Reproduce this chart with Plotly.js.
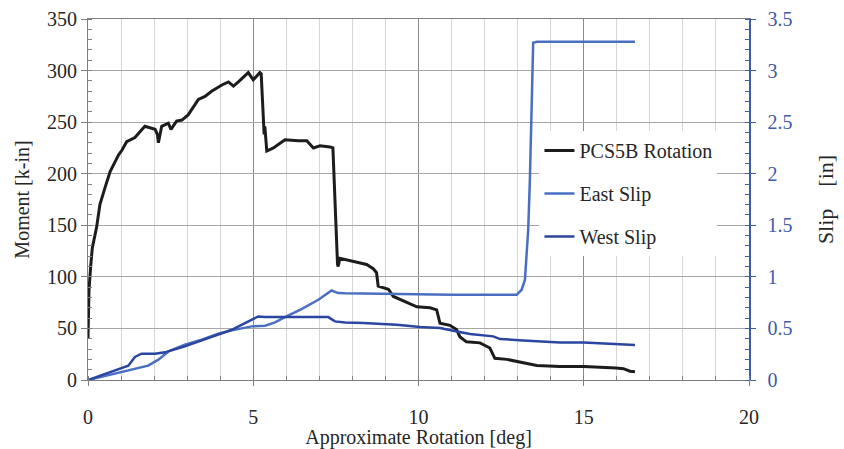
<!DOCTYPE html>
<html>
<head>
<meta charset="utf-8">
<script src="https://cdn.plot.ly/plotly-3.0.1.min.js"></script>
<style>html,body{margin:0;padding:0;background:#fff;}</style>
</head>
<body>
<div id="chart" style="width:844px;height:449px;"></div>
<script>
// PCS5B Rotation: rotation [deg] vs moment [k-in]
var rotX = [0, 0.03, 0.08, 0.13, 0.26, 0.36, 0.51, 0.67, 0.92, 1.03, 1.17, 1.42, 1.72, 1.93, 2.03, 2.10, 2.13, 2.23, 2.43, 2.51, 2.68, 2.84, 3.03, 3.34, 3.54, 3.74, 4.05, 4.25, 4.40, 4.55, 4.85, 5.00, 5.20, 5.24, 5.30, 5.33, 5.35, 5.41, 5.61, 5.96, 6.36, 6.62, 6.82, 7.02, 7.32, 7.41, 7.55, 7.57, 7.62, 8.03, 8.43, 8.63, 8.73, 8.78, 9.09, 9.24, 9.64, 9.95, 10.35, 10.55, 10.65, 10.95, 11.15, 11.25, 11.45, 11.86, 12.16, 12.31, 12.67, 13.17, 13.58, 14.28, 15.0, 15.98, 16.2, 16.4, 16.55];
var rotMoment = [40, 87, 110, 128, 148, 170, 186, 202, 218, 223, 231, 235, 246, 244, 243, 238, 230, 246, 249, 243, 251, 252, 257, 272, 275, 280, 286, 289, 285, 289, 298, 291, 298, 297, 249, 238, 246, 222, 225, 233, 232, 232, 225, 227, 226, 225, 112, 110, 118, 115, 112, 108, 104, 91, 88, 81, 75, 71, 70, 68, 55, 53, 49, 42, 37, 36, 31, 21, 20, 16.5, 14, 13.2, 13.2, 11.6, 11, 8.5, 8];

// East Slip [in]
var eastX = [0, 0.92, 1.42, 1.82, 2.13, 2.43, 2.93, 3.44, 3.94, 4.35, 4.95, 5.36, 5.66, 5.96, 6.46, 6.97, 7.37, 7.57, 7.78, 9.3, 11.0, 12.97, 13.12, 13.22, 13.27, 13.32, 13.37, 13.42, 13.47, 13.58, 16.55];
var eastSlip = [0, 0.068, 0.107, 0.139, 0.197, 0.277, 0.342, 0.39, 0.449, 0.481, 0.52, 0.526, 0.558, 0.61, 0.688, 0.778, 0.868, 0.843, 0.84, 0.83, 0.826, 0.826, 0.875, 0.97, 1.17, 1.46, 1.94, 2.59, 3.27, 3.28, 3.28];

// West Slip [in]
var westX = [0, 0.92, 1.22, 1.42, 1.62, 2.03, 2.33, 2.93, 3.94, 4.35, 4.75, 5.15, 5.36, 5.96, 7.27, 7.47, 7.78, 8.33, 9.34, 10.05, 10.65, 11.16, 11.56, 12.26, 12.47, 13.17, 14.28, 15.0, 16.55];
var westSlip = [0, 0.10, 0.139, 0.223, 0.255, 0.255, 0.268, 0.326, 0.439, 0.487, 0.552, 0.616, 0.61, 0.61, 0.61, 0.568, 0.558, 0.552, 0.536, 0.514, 0.504, 0.471, 0.446, 0.423, 0.397, 0.384, 0.364, 0.364, 0.339];

var names = ['PCS5B Rotation', 'East Slip', 'West Slip'];

var FONT = '"Liberation Serif", serif';
var BLUE_AX = '#3f5aa8';

var traces = [
  {x: rotX, y: rotMoment, name: names[0], type: 'scatter', mode: 'lines', yaxis: 'y',
   line: {color: '#1c1c1c', width: 3}, legendgroup: 'a'},
  {x: eastX, y: eastSlip, name: names[1], type: 'scatter', mode: 'lines', yaxis: 'y2',
   line: {color: '#4a6fc2', width: 2.5}, legendgroup: 'b'},
  {x: westX, y: westSlip, name: names[2], type: 'scatter', mode: 'lines', yaxis: 'y2',
   line: {color: '#2b45a2', width: 2.5}, legendgroup: 'c'}
];

var layout = {
  width: 844, height: 449,
  margin: {l: 88, r: 95, t: 19, b: 69},
  paper_bgcolor: '#fff', plot_bgcolor: '#fff',
  font: {family: FONT, size: 20, color: '#262626'},
  showlegend: true,
  legend: {x: 0.683, y: 0.69, xanchor: 'left', yanchor: 'top', bgcolor: '#fff',
           font: {family: FONT, size: 20, color: '#262626'}, tracegroupgap: 14,
           traceorder: 'grouped', itemwidth: 30},
  xaxis: {
    range: [0, 20], dtick: 5, tick0: 0, showgrid: true, gridcolor: '#8c8c8c', gridwidth: 1,
    zeroline: false, showline: true, linecolor: '#7f7f7f', linewidth: 1, mirror: true,
    ticks: 'outside', ticklen: 5, tickcolor: '#7f7f7f', ticklabelstandoff: 14,
    minor: {dtick: 1, showgrid: true, gridcolor: '#d6d6d6', ticks: 'inside', ticklen: 4, tickcolor: '#7f7f7f'},
    tickfont: {family: FONT, size: 20, color: '#262626'},
    title: {text: 'Approximate Rotation [deg]', font: {family: FONT, size: 20, color: '#262626'}, standoff: 2},
    automargin: false
  },
  yaxis: {
    range: [0, 350], dtick: 50, showgrid: true, gridcolor: '#a6a6a6', gridwidth: 1,
    zeroline: false, showline: true, linecolor: '#7f7f7f', linewidth: 1,
    ticks: 'outside', ticklen: 6, tickcolor: '#7f7f7f',
    minor: {dtick: 10, ticks: 'inside', ticklen: 4, tickcolor: '#7f7f7f', showgrid: false},
    tickfont: {family: FONT, size: 20, color: '#262626'},
    title: {text: 'Moment [k-in]', font: {family: FONT, size: 20, color: '#262626'}, standoff: 12},
    automargin: false
  },
  yaxis2: {
    overlaying: 'y', side: 'right', range: [0, 3.5], dtick: 0.5, showgrid: false,
    zeroline: false, showline: true, linecolor: BLUE_AX, linewidth: 1.5,
    ticks: 'outside', ticklen: 5, tickcolor: BLUE_AX, ticklabelstandoff: 8,
    minor: {dtick: 0.1, ticks: 'inside', ticklen: 4, tickcolor: BLUE_AX, showgrid: false},
    tickfont: {family: FONT, size: 20, color: BLUE_AX},
    title: {text: 'Slip\u00a0\u00a0\u00a0\u00a0[in]', font: {family: FONT, size: 22, color: '#262626'}, standoff: 26},
    automargin: false
  }
};

Plotly.newPlot('chart', traces, layout, {staticPlot: true, displayModeBar: false});
</script>
</body>
</html>
